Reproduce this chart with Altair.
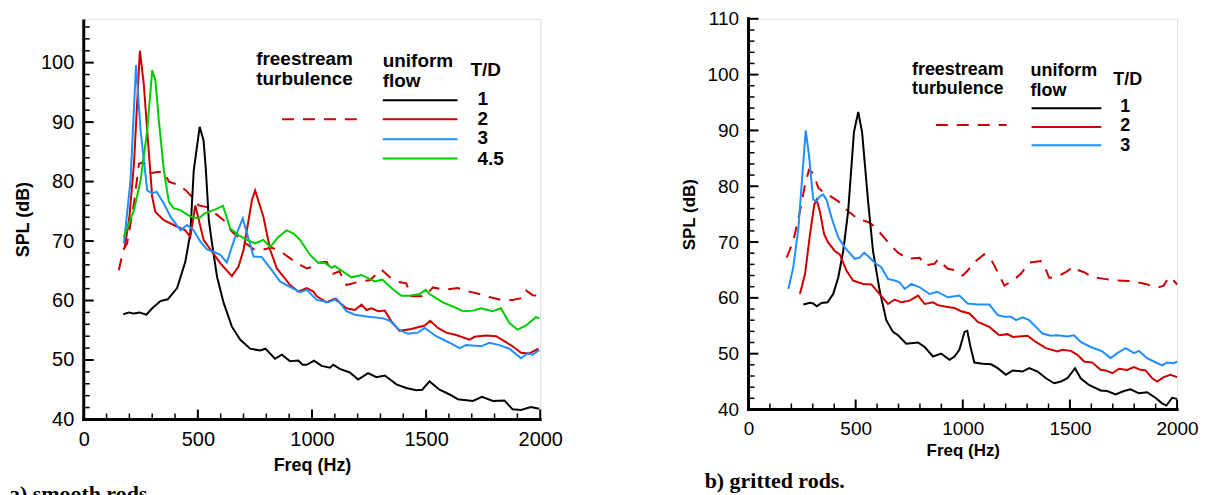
import altair as alt
import pandas as pd

# ---------------- (a) smooth rods ----------------
A_T1_F = [173,198,220,245,274,300,336,368,409,445,467,482,508,525,535,548,562,584,613,649,686,729,773,796,838,868,904,940,959,977,1009,1042,1079,1093,1122,1166,1202,1246,1282,1319,1370,1413,1457,1483,1515,1559,1603,1639,1705,1745,1792,1843,1879,1916,1959,1996]
A_T1_S = [57.7,58.0,57.8,58.0,57.6,58.7,59.9,60.2,62.1,66.5,71.3,81.9,89.2,86.9,82.0,73.5,69.6,64.0,59.6,55.6,53.4,51.9,51.6,51.9,50.2,50.9,49.8,49.9,49.2,49.2,49.9,49.0,48.7,49.2,48.5,47.9,46.7,47.8,47.1,47.4,45.9,45.3,44.9,45.0,46.4,45.0,44.2,43.4,43.1,43.8,43.1,43.2,41.7,41.6,42.1,41.8]

A_T2_F = [179,200,220,246,263,278,300,314,351,394,445,467,489,525,562,598,649,678,700,722,737,751,787,817,846,882,904,940,977,1006,1021,1064,1100,1151,1188,1217,1239,1261,1290,1319,1348,1384,1435,1494,1518,1552,1588,1632,1690,1712,1763,1807,1850,1879,1916,1952,1993]
A_T2_S = [68.8,74.0,83.0,102.0,96.4,88.6,77.4,74.9,73.5,72.7,71.8,70.7,76.0,70.2,68.2,66.3,64.1,65.7,68.5,73.5,76.9,78.5,74.1,68.5,65.4,63.7,62.6,61.5,62.1,61.5,60.7,59.7,60.3,58.7,58.4,59.3,58.4,58.7,58.2,58.3,56.5,54.9,55.2,55.8,56.6,55.4,54.6,54.2,53.4,53.9,54.1,54.0,53.0,52.3,51.2,51.1,51.9]

A_T3_F = [176,205,229,249,278,300,319,351,380,424,453,482,511,540,569,598,627,659,697,715,744,780,824,860,897,948,977,1021,1071,1108,1151,1188,1239,1312,1341,1384,1421,1464,1494,1544,1603,1646,1676,1741,1777,1821,1865,1916,1945,1967,1996]
A_T3_S = [69.6,80.2,99.6,88.6,78.5,78.0,78.3,76.3,74.1,71.8,72.7,71.8,69.9,68.6,68.2,67.7,66.4,70.2,73.8,71.3,67.4,67.3,65.1,63.2,62.4,61.4,61.8,60.1,59.7,60.3,58.2,57.6,57.3,57.0,56.6,55.0,54.4,54.6,55.4,54.0,52.9,52.0,52.5,52.3,52.9,52.5,51.9,50.3,51.1,50.9,51.7]

A_T45_F = [176,220,249,278,300,314,329,351,373,394,424,467,504,528,569,610,642,678,715,751,787,817,853,889,918,948,991,1028,1057,1086,1100,1173,1217,1275,1309,1348,1392,1428,1472,1498,1515,1544,1573,1617,1661,1705,1741,1792,1828,1865,1901,1938,1981,1996]
A_T45_S = [70.7,75.2,80.2,88.6,98.7,97.0,90.3,81.9,76.6,75.5,75.2,74.1,73.8,74.6,75.2,75.9,72.1,71.0,70.2,69.6,70.2,69.0,70.7,71.8,71.3,70.2,67.7,66.3,66.3,65.5,65.8,63.9,64.3,63.2,63.5,62.1,60.8,60.8,61.1,61.8,61.1,60.4,59.7,59.0,58.2,58.3,58.7,58.2,58.7,56.2,55.1,55.8,57.2,57.0]

A_FST_F = [154,173,190,220,242,263,293,322,351,373,409,445,475,504,540,584,613,649,700,744,780,824,875,933,977,1006,1035,1064,1093,1120,1151,1210,1253,1304,1341,1370,1413,1435,1494,1530,1581,1639,1690,1734,1777,1828,1879,1916,1938,1967,1996]
A_FST_S = [65.1,68.5,69.6,76.3,83.0,83.3,81.4,81.6,81.6,80.0,79.5,78.6,77.4,76.0,75.7,74.4,73.5,71.6,69.9,68.6,68.5,68.9,67.9,66.3,65.4,65.7,66.4,66.5,64.5,64.9,62.6,63.2,63.4,65.2,63.9,63.2,62.9,60.7,60.7,62.2,61.8,62.1,61.5,61.1,60.6,60.1,60.1,60.4,61.7,60.9,60.8]

# ---------------- (b) gritted rods ----------------
B_T1_F = [256,287,302,318,341,369,395,419,442,465,492,512,530,558,581,612,643,674,698,736,791,822,861,899,938,961,984,1008,1021,1036,1054,1093,1132,1163,1201,1233,1279,1310,1349,1388,1427,1458,1488,1524,1550,1589,1643,1674,1713,1752,1783,1822,1860,1899,1930,1950,1977,2000]
B_T1_S = [58.8,59.1,59.0,58.5,59.1,59.2,60.7,63.7,68.4,75.5,89.7,93.3,89.7,77.3,68.4,61.3,56.0,53.9,53.3,51.8,52.0,51.2,49.5,50.0,48.9,49.5,50.7,53.9,54.1,51.2,48.4,48.2,48.1,47.4,46.2,47.0,46.8,47.4,46.8,45.6,44.7,45.0,45.6,47.4,45.6,44.4,43.4,43.3,42.7,43.3,43.6,42.9,43.1,42.1,41.1,40.7,42.1,41.9]

B_T2_F = [240,264,287,307,318,333,353,372,403,426,457,488,535,574,605,651,682,713,752,791,822,861,884,922,961,992,1031,1070,1124,1170,1209,1233,1302,1341,1388,1442,1465,1504,1535,1566,1605,1643,1667,1698,1729,1767,1799,1829,1853,1884,1907,1938,1969,2000]
B_T2_S = [60.7,64.3,71.4,76.7,77.6,75.5,71.4,69.9,68.4,67.8,64.9,63.1,62.5,62.4,61.0,58.9,59.7,59.2,59.5,60.4,58.9,59.2,58.7,58.4,58.2,57.6,57.2,55.7,54.8,53.3,53.5,53.0,53.2,52.1,51.0,50.4,50.7,50.5,49.8,48.6,48.4,47.1,47.0,46.5,47.3,47.1,47.6,47.1,47.0,45.6,45.0,45.8,46.2,45.8]

B_T3_F = [186,209,233,248,267,282,302,318,333,349,364,388,419,450,496,519,540,566,589,620,651,682,705,729,760,799,845,881,930,984,1023,1070,1124,1163,1194,1225,1249,1279,1310,1341,1372,1411,1442,1488,1519,1550,1597,1625,1651,1690,1721,1760,1799,1822,1860,1892,1930,1953,1984,2000]
B_T3_S = [61.6,65.5,72.6,80.3,90.0,85.6,77.6,77.3,78.2,78.5,77.6,74.3,70.8,69.0,67.0,67.2,68.1,67.2,66.3,65.5,63.4,63.1,62.8,61.6,62.5,61.9,60.7,61.1,60.1,60.4,59.0,58.8,58.8,56.9,56.6,56.6,56.0,56.5,56.0,54.8,53.6,53.2,53.3,53.1,53.3,52.1,51.2,50.8,50.4,49.2,50.1,51.0,50.1,50.5,49.2,48.6,47.9,48.4,48.3,48.6]

B_FST_F = [178,209,240,264,282,302,326,344,372,419,465,512,558,581,620,659,698,744,799,822,868,884,930,969,1000,1023,1054,1100,1132,1163,1194,1233,1271,1310,1364,1380,1403,1434,1481,1519,1535,1566,1605,1659,1721,1791,1853,1907,1938,1961,1984,2000]
B_FST_S = [67.2,70.2,75.5,80.3,82.9,82.3,79.7,79.1,78.5,77.3,75.5,74.1,73.6,73.0,71.4,69.6,68.1,67.0,67.2,65.8,66.1,66.9,65.2,64.9,64.0,64.9,66.4,67.8,66.9,64.6,62.2,63.1,64.3,66.3,66.6,65.8,63.6,63.7,64.6,65.6,65.0,64.6,63.7,63.4,63.1,63.0,62.5,61.8,62.2,63.7,63.1,62.4]

# ---------------- labels / ticks ----------------
X_MAJOR = [0, 500, 1000, 1500, 2000]
X_MINOR = [v for v in range(100, 2000, 100) if v % 500 != 0]
A_Y_MAJOR = [40, 50, 60, 70, 80, 90, 100]
A_Y_MINOR = [v for v in range(42, 107, 2) if v % 10 != 0]
A_Y_AXIS_TOP = 107
B_Y_MAJOR = [40, 50, 60, 70, 80, 90, 100, 110]
B_Y_MINOR = [v for v in range(42, 110, 2) if v % 10 != 0]
B_Y_AXIS_TOP = 110

TD_A = ["1", "2", "3", "4.5"]
TD_B = ["1", "2", "3"]

BLACK, RED, BLUE, GREEN = "#000000", "#cc0000", "#1e8fff", "#00cc00"
DASH = [12, 9]
FONT = "Liberation Sans"


def one_row():
    return pd.DataFrame({"k": [0]})


def panel(series, W, H, y_max, y_axis_top, y_major, y_minor, lab_fs, title_fs,
          tpx, tpy, leg, caption):
    xs = alt.Scale(domain=[0, 2000], nice=False, zero=False)
    ys = alt.Scale(domain=[40, y_max], nice=False, zero=False)
    xax = alt.Axis(values=X_MAJOR, title="Freq (Hz)", grid=False, ticks=False,
                   domain=False, labelFlush=False, labelOverlap=False,
                   labelFontSize=lab_fs, labelColor="black", labelPadding=10,
                   labelFont=FONT, titleFont=FONT, format="d",
                   titleFontSize=title_fs, titleFontWeight="bold",
                   titleColor="black", titlePadding=tpx)
    yax = alt.Axis(values=y_major, title="SPL (dB)", grid=False, ticks=False,
                   domain=False, labelFlush=False, labelOverlap=False,
                   labelFontSize=lab_fs, labelColor="black", labelPadding=10,
                   labelFont=FONT, titleFont=FONT, format="d",
                   titleFontSize=title_fs, titleFontWeight="bold",
                   titleColor="black", titlePadding=tpy)

    def X():
        return alt.X("f:Q", scale=xs, axis=xax)

    def Y():
        return alt.Y("spl:Q", scale=ys, axis=yax)

    layers = []
    for f, s, color, dashed in series:
        df = pd.DataFrame({"f": f, "spl": s})
        kw = dict(color=color, strokeWidth=2)
        if dashed:
            kw["strokeDash"] = DASH
        layers.append(alt.Chart(df).mark_line(**kw).encode(x=X(), y=Y()))

    # axis lines
    layers.append(alt.Chart(pd.DataFrame({"spl": [40], "spl2": [y_axis_top]}))
                  .mark_rule(color="black", strokeWidth=3, strokeCap="square")
                  .encode(x=alt.value(0), y=Y(), y2="spl2:Q"))
    layers.append(alt.Chart(pd.DataFrame({"f": [0], "f2": [2000]}))
                  .mark_rule(color="black", strokeWidth=3, strokeCap="square")
                  .encode(y=alt.value(H), x=X(), x2="f2:Q"))
    # inward ticks
    layers.append(alt.Chart(pd.DataFrame({"spl": y_major}))
                  .mark_rule(color="black", strokeWidth=2)
                  .encode(y=Y(), x=alt.value(0), x2=alt.value(10)))
    layers.append(alt.Chart(pd.DataFrame({"spl": y_minor}))
                  .mark_rule(color="black", strokeWidth=1.5)
                  .encode(y=Y(), x=alt.value(0), x2=alt.value(6)))
    layers.append(alt.Chart(pd.DataFrame({"f": X_MAJOR}))
                  .mark_rule(color="black", strokeWidth=2)
                  .encode(x=X(), y=alt.value(H), y2=alt.value(H - 10)))
    layers.append(alt.Chart(pd.DataFrame({"f": X_MINOR}))
                  .mark_rule(color="black", strokeWidth=1.5)
                  .encode(x=X(), y=alt.value(H), y2=alt.value(H - 6)))

    # legend
    fs = leg["fs"]
    for txt, (px, py) in leg["texts"]:
        layers.append(alt.Chart(one_row())
                      .mark_text(align="left", baseline="middle", font=FONT,
                                 fontWeight="bold", fontSize=fs, color="black")
                      .encode(x=alt.value(px), y=alt.value(py),
                              text=alt.value(txt)))
    x0, x1 = leg["line_x"]
    for (color, py), lab, ly in zip(leg["lines"], leg["labels"], leg["label_y"]):
        layers.append(alt.Chart(one_row())
                      .mark_rule(color=color, strokeWidth=2)
                      .encode(x=alt.value(x0), x2=alt.value(x1), y=alt.value(py)))
        layers.append(alt.Chart(one_row())
                      .mark_text(align="left", baseline="middle", font=FONT,
                                 fontWeight="bold", fontSize=fs, color="black")
                      .encode(x=alt.value(leg["label_x"]), y=alt.value(ly),
                              text=alt.value(lab)))
    dx0, dx1, dy = leg["dash"]
    layers.append(alt.Chart(one_row())
                  .mark_rule(color=RED, strokeWidth=2, strokeDash=DASH)
                  .encode(x=alt.value(dx0), x2=alt.value(dx1), y=alt.value(dy)))

    ctext, cx, cy = caption
    layers.append(alt.Chart(one_row())
                  .mark_text(align="left", baseline="alphabetic",
                             font="Liberation Serif", fontWeight="bold",
                             fontSize=22, color="black")
                  .encode(x=alt.value(cx), y=alt.value(cy), text=alt.value(ctext)))

    return alt.layer(*layers).properties(width=W, height=H)


A_W, A_H = 458, 402
B_W, B_H = 430, 392

left = panel(
    [(A_FST_F, A_FST_S, RED, True), (A_T1_F, A_T1_S, BLACK, False),
     (A_T2_F, A_T2_S, RED, False), (A_T3_F, A_T3_S, BLUE, False),
     (A_T45_F, A_T45_S, GREEN, False)],
    A_W, A_H, 40 + A_H / 5.967, A_Y_AXIS_TOP, A_Y_MAJOR, A_Y_MINOR, 20, 18, 7, 8,
    {"fs": 19,
     "texts": [("freestream", (173, 40.5)), ("turbulence", (173, 60.5)),
               ("uniform", (300, 42.5)), ("flow", (300, 62.5)),
               ("T/D", (388, 51.5))],
     "line_x": (300, 375),
     "lines": [(BLACK, 81.8), (RED, 100.8), (BLUE, 120.8), (GREEN, 140.2)],
     "labels": TD_A, "label_x": 395, "label_y": [80.5, 100.5, 119.5, 140.5],
     "dash": (199, 274, 100.8)},
    ("a) smooth rods.", -75, 484))

right = panel(
    [(B_FST_F, B_FST_S, RED, True), (B_T1_F, B_T1_S, BLACK, False),
     (B_T2_F, B_T2_S, RED, False), (B_T3_F, B_T3_S, BLUE, False)],
    B_W, B_H, 110, B_Y_AXIS_TOP, B_Y_MAJOR, B_Y_MINOR, 19, 17, 4, 8,
    {"fs": 18,
     "texts": [("freestream", (164, 51.8)), ("turbulence", (164, 70.8)),
               ("uniform", (283, 52.5)), ("flow", (283, 72.5)),
               ("T/D", (366, 61.5))],
     "line_x": (284, 354),
     "lines": [(BLACK, 89.8), (RED, 108.5), (BLUE, 126.8)],
     "labels": TD_B, "label_x": 373, "label_y": [88.5, 107.5, 127.5],
     "dash": (188, 259, 106.5)},
    ("b) gritted rods.", -44, 471))

chart = (alt.hconcat(left, right, spacing=209, bounds="flush")
         .properties(padding=0, background="white")
         .configure_view(stroke=None)
         .configure(font=FONT))

chart.save("out.html", embed_options={"renderer": "svg", "actions": False})
